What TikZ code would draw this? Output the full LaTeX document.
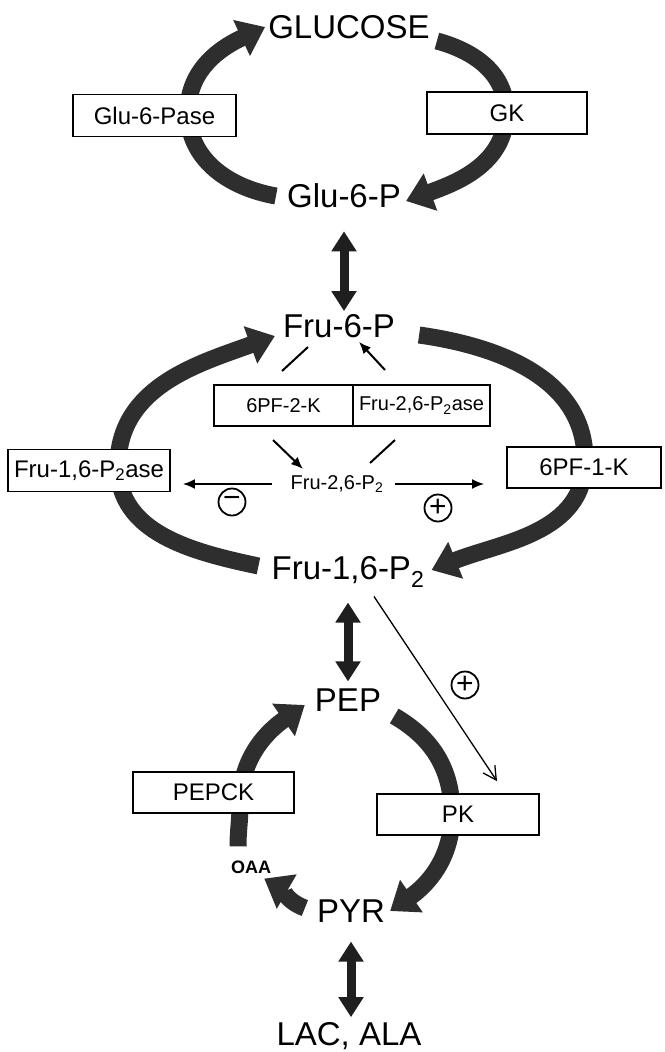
\documentclass[tikz,border=0pt]{standalone}
\usepackage{fontspec}
\setmainfont{Liberation Sans}
\usetikzlibrary{arrows.meta,backgrounds,calc}

\begin{document}
\begin{tikzpicture}[x=1pt,y=1pt,>=Latex]

  \tikzstyle{metab}=[font=\fontsize{33}{36}\selectfont,inner sep=3pt]
  \tikzstyle{enzyme}=[draw,line width=1.8pt,fill=white,minimum height=42pt,inner sep=2pt,font=\fontsize{24}{26}\selectfont]
  \tikzstyle{bifunc}=[enzyme,minimum height=41pt,font=\fontsize{20}{22}\selectfont]
  \tikzstyle{flux}=[line width=17pt,draw=black!82,-{Triangle[length=26pt,width=38pt]}]
  \tikzstyle{equil}=[line width=9pt,draw=black!88,{Triangle[length=20pt,width=24pt]}-{Triangle[length=20pt,width=24pt]}]
  \tikzstyle{effect}=[line width=2pt,-{Latex[length=12pt,width=10pt]}]
  \tikzstyle{sign}=[circle,draw,line width=1.8pt,minimum size=27pt,inner sep=0pt,font=\fontsize{30}{30}\selectfont]

  \useasboundingbox (0,0) rectangle (664,-1052);

  % glucose / glu-6-p cycle
  \node [metab] (glucose) at (349,-27)    {GLUCOSE};
  \node [metab] (glu6p)   at (344,-196)   {Glu-6-P};
  \node [enzyme,minimum width=163pt] (g6pase) at (154.5,-115.5) {Glu-6-Pase};
  \node [enzyme,minimum width=160pt] (gk)     at (507,-113)     {GK};
  \coordinate (topL) at (188,-112);
  \coordinate (topR) at (506,-112);

  % fructose cycle
  \node [metab] (fru6p)  at (339,-326) {Fru-6-P};
  \node [metab] (fru16p) at (348,-572) {Fru-1,6-P\textsubscript{2}};
  \node [font=\fontsize{20}{22}\selectfont,inner sep=2pt] (f26p) at (337,-484) {Fru-2,6-P\textsubscript{2}};
  \node [bifunc,minimum width=139pt] (pfk2)    at (283.5,-405.5) {6PF-2-K};
  \node [bifunc,minimum width=137pt] (f26pase) at (421.5,-405.5) {Fru-2,6-P\textsubscript{2}ase};
  \node [enzyme,minimum width=162pt] (fbpase)  at (89,-470.5)    {Fru-1,6-P\textsubscript{2}ase};
  \node [enzyme,minimum width=154pt,minimum height=41pt] (pfk1) at (584,-467.5) {6PF-1-K};
  \coordinate (midL) at (118,-466);
  \coordinate (midR) at (585,-460);

  % pep / pyr cycle
  \node [metab] (pep)    at (348,-700)  {PEP};
  \node [metab] (pyr)    at (351,-911)  {PYR};
  \node [metab] (lacala) at (349,-1036) {LAC, ALA};
  \node [font=\fontsize{18}{20}\selectfont\bfseries,inner sep=1pt] (oaa) at (251,-867) {OAA};
  \node [enzyme,minimum width=161pt,minimum height=41pt] (pepck) at (213.5,-792.5) {PEPCK};
  \node [enzyme,minimum width=162pt,minimum height=41pt] (pk)    at (458,-814.5)   {PK};
  \coordinate (lowL) at (240,-805);
  \coordinate (lowR) at (452,-814);

  \begin{scope}[on background layer]
    \draw [flux] ($(glu6p.west)+(-8,0)$) to[out=170,in=-90] (topL)
                 to[out=90,in=205] (glucose.west);
    \draw [flux] ($(glucose.east)+(4,-14)$) to[out=-15,in=90] (topR)
                 to[out=-90,in=20] ($(glu6p.east)+(2,-5)$);
    \draw [flux] ($(fru16p.west)+(-10,6)$) to[out=168,in=-90] (midL)
                 to[out=90,in=200] ($(fru6p.west)+(-5,-10)$);
    \draw [flux] ($(fru6p.east)+(21,-9)$) to[out=-8,in=90] (midR)
                 to[out=-90,in=22] ($(fru16p.east)+(4,2)$);
    \draw [flux] ($(oaa.north)+(-13,13)$) to[out=90,in=-90] (lowL)
                 to[out=90,in=215] ($(pep.west)+(-7,-5)$);
    \draw [flux] ($(pep.east)+(10,-16)$) to[out=-30,in=90] (lowR)
                 to[out=-90,in=35] ($(pyr.east)+(2,0)$);
    \draw [flux] ($(pyr.west)+(-9,3)$) to[out=160,in=-30] ($(oaa.south east)+(-8,-4)$);
  \end{scope}

  \draw [equil,shorten <=20pt] (glu6p.south) -- (glu6p.south |- fru6p.north);
  \draw [equil,shorten <=12pt,shorten >=4pt] (fru16p.south) -- (fru16p.south |- pep.north);
  \draw [equil,shorten <=16pt,shorten >=2pt] (pyr.south) -- (pyr.south |- lacala.north);

  % fru-2,6-p2 loop
  \coordinate (k2a) at (308,-347);
  \coordinate (k2b) at (282,-371);
  \coordinate (k2c) at (273,-440);
  \coordinate (k2d) at (303,-469);
  \coordinate (pa)  at (385,-370);
  \coordinate (pb)  at (370,-463);
  \coordinate (pc)  at (395,-440);
  \draw [line width=2pt] (k2a) -- (k2b);
  \draw [effect] (k2c) -- (k2d);
  \draw [line width=2pt] (pb) -- (pc);
  \draw [effect] (pa) -- ($(fru6p.south)+(20,-1)$);

  \draw [effect,shorten <=16pt,shorten >=12pt] (f26p.west) -- (f26p.west -| fbpase.east);
  \draw [effect,shorten <=9pt,shorten >=22pt] (f26p.east) -- (f26p.east -| pfk1.west);
  \node [sign] (minus) at (232,-502) {−};
  \node [sign] (plus1) at (438,-508) {+};

  \draw [line width=1.3pt,-{Straight Barb[length=13pt,width=14pt,line width=1.3pt]}]
        ($(fru16p.south)+(26,-6)$) -- ($(pk.north)+(39,12)$);
  \node [sign] (plus2) at (465,-685) {+};

\end{tikzpicture}
\end{document}
